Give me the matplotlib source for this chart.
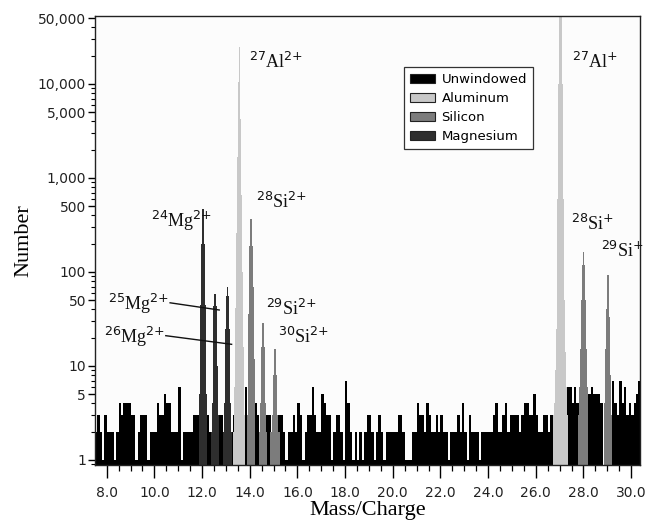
import numpy as np
import matplotlib
matplotlib.use("Agg")
import matplotlib.pyplot as plt
from matplotlib.patches import Patch
from matplotlib.ticker import FixedLocator, MultipleLocator, FormatStrFormatter, LogLocator, NullFormatter

plt.rcParams['mathtext.fontset'] = 'custom'
plt.rcParams['mathtext.rm'] = 'Liberation Serif'
plt.rcParams['mathtext.sf'] = 'DejaVu Sans'

# ---------------- data ----------------
series_names = ['Unwindowed', 'Aluminum', 'Silicon', 'Magnesium']
series_colors = ['#000000', '#c8c8c8', '#7c7c7c', '#2e2e2e']

# unwindowed background counts, bins of 0.1 starting at 7.5
noise_start = 7.5
noise_step = 0.1
noise_counts = [
    2, 3, 2, 1, 3,
    2, 2, 2, 1, 2, 4, 3, 4, 4, 4,
    3, 3, 1, 2, 3, 3, 3, 1, 2, 2,
    2, 4, 3, 3, 5, 4, 4, 2, 2, 2,
    6, 1, 2, 2, 2, 2, 3, 3, 3, 0,
    0, 0, 3, 2, 0, 0, 0, 3, 3, 0,
    0, 0, 2, 3, 0, 0, 0, 0, 6, 0,
    0, 0, 4, 3, 0, 0, 0, 3, 3, 0,
    0, 0, 3, 3, 2, 1, 2, 2, 3, 2,
    4, 3, 1, 2, 3, 3, 6, 3, 2, 2,
    5, 4, 3, 3, 1, 2, 3, 3, 2, 1,
    7, 4, 2, 1, 2, 1, 2, 1, 2, 3,
    3, 2, 1, 2, 3, 2, 1, 2, 2, 2,
    2, 2, 3, 3, 2, 1, 1, 1, 2, 2,
    4, 3, 3, 2, 4, 3, 2, 2, 3, 2,
    3, 2, 2, 1, 2, 2, 2, 3, 2, 4,
    2, 1, 3, 2, 2, 2, 1, 2, 2, 2,
    2, 2, 3, 4, 2, 2, 3, 4, 2, 3,
    3, 3, 3, 2, 3, 4, 4, 3, 3, 5,
    3, 2, 2, 3, 3, 2, 3, 3, 0, 0,
    0, 0, 0, 6, 6, 4, 6, 4, 0, 0,
    0, 0, 5, 6, 5, 5, 5, 4, 0, 0,
    0, 0, 7, 4, 3, 7, 4, 6, 3, 4,
    3, 4, 5, 7,
]

# windowed peaks: label, centre mass/charge, element, counts (centre bin outwards), bin width 0.02
peak_step = 0.02
peak_labels = [r'$^{\mathsf{24}}$Mg$^{\mathsf{2{+}}}$', r'$^{\mathsf{25}}$Mg$^{\mathsf{2{+}}}$',
               r'$^{\mathsf{26}}$Mg$^{\mathsf{2{+}}}$', r'$^{\mathsf{27}}$Al$^{\mathsf{2{+}}}$',
               r'$^{\mathsf{28}}$Si$^{\mathsf{2{+}}}$', r'$^{\mathsf{29}}$Si$^{\mathsf{2{+}}}$',
               r'$^{\mathsf{30}}$Si$^{\mathsf{2{+}}}$', r'$^{\mathsf{27}}$Al$^{\mathsf{{+}}}$',
               r'$^{\mathsf{28}}$Si$^{\mathsf{{+}}}$', r'$^{\mathsf{29}}$Si$^{\mathsf{{+}}}$']
peak_mass = [12.04, 12.55, 13.07, 13.56, 14.06, 14.56, 15.06, 27.04, 28.00, 29.02]
peak_element = ['Magnesium', 'Magnesium', 'Magnesium', 'Aluminum', 'Silicon',
                'Silicon', 'Silicon', 'Aluminum', 'Silicon', 'Silicon']
mg24_profile = [490, 470, 350, 200, 100, 45, 13, 5, 3]
mg25_profile = [60, 58, 50, 43, 25, 10, 4, 3, 2]
mg26_profile = [69, 66, 55, 45, 25, 10, 4, 3, 2]
al27_2_profile = [26700, 25000, 10500, 4200, 1660, 660, 260, 100, 41, 16, 6, 3, 2]
si28_2_profile = [390, 370, 280, 190, 120, 70, 36, 12, 3]
si29_2_profile = [30, 29, 22, 16, 9, 4, 3, 2, 2]
si30_2_profile = [16, 15, 11, 8, 5, 3, 3, 2, 2, 2]
al27_1_profile = [70000, 65000, 55000, 30000, 10000, 3000, 600, 150, 50, 25, 14, 9, 6, 4, 3, 3]
si28_1_profile = [164, 160, 120, 75, 50, 35, 15, 10, 6, 4, 3]
si29_1_profile = [95, 92, 65, 40, 33, 15, 8, 4, 3]
peak_profiles = [mg24_profile, mg25_profile, mg26_profile, al27_2_profile, si28_2_profile,
                 si29_2_profile, si30_2_profile, al27_1_profile, si28_1_profile, si29_1_profile]

ytick_values = [1, 5, 10, 50, 100, 500, 1000, 5000, 10000, 50000]
ytick_labels = ['1', '5', '10', '50', '100', '500', '1,000', '5,000', '10,000', '50,000']

# ---------------- figure ----------------
fig = plt.figure(figsize=(6.46, 5.2), dpi=100)
ax = fig.add_axes([95 / 646, 55 / 520, 544.5 / 646, 449 / 520])
ax.set_facecolor('#fcfcfc')
ax.set_yscale('log')
BASE = 0.5

color_of = dict(zip(series_names, series_colors))

nc = np.asarray(noise_counts, dtype=float)
edges = noise_start + noise_step * np.arange(len(nc) + 1)
ax.stairs(np.where(nc > 0, nc, BASE), edges, baseline=BASE, fill=True,
          color=color_of['Unwindowed'], linewidth=0)

for m, el, prof in zip(peak_mass, peak_element, peak_profiles):
    p = np.asarray(prof, dtype=float)
    vals = np.concatenate([p[::-1], p[1:]])
    n = len(p) - 1
    e = m + peak_step * (np.arange(-n, n + 2) - 0.5)
    ax.stairs(vals, e, baseline=BASE, fill=True, color=color_of[el], linewidth=0)

ax.set_xlim(7.51, 30.35)
ax.set_ylim(0.884, 52900)

# ticks
ax.xaxis.set_major_locator(MultipleLocator(2))
ax.xaxis.set_minor_locator(MultipleLocator(0.5))
ax.xaxis.set_major_formatter(FormatStrFormatter('%.1f'))
ax.yaxis.set_major_locator(FixedLocator(ytick_values))
ax.set_yticklabels(ytick_labels)
ax.yaxis.set_minor_locator(LogLocator(base=10, subs=np.arange(2, 10)))
ax.yaxis.set_minor_formatter(NullFormatter())
ax.tick_params(axis='both', which='major', direction='out', labelsize=10,
               labelcolor='#222222', width=1.0)
ax.tick_params(axis='x', which='major', length=9, pad=6)
ax.tick_params(axis='x', which='minor', length=4.5, width=0.9)
ax.tick_params(axis='y', which='major', length=5, pad=1.5)
ax.tick_params(axis='y', which='minor', length=3, width=0.8)
for lab in ax.get_xticklabels() + ax.get_yticklabels():
    lab.set_family('DejaVu Sans')
for s in ax.spines.values():
    s.set_linewidth(1.0)
    s.set_color('#222222')

ax.set_xlabel('Mass/Charge', family='Liberation Serif', fontsize=16, labelpad=1)
ax.set_ylabel('Number', family='Liberation Serif', fontsize=16, labelpad=3)

# legend
handles = [Patch(facecolor=c, edgecolor='#222222', linewidth=0.8) for c in series_colors]
leg = ax.legend(handles, series_names, loc='upper left', bbox_to_anchor=(0.5675, 0.886),
                borderaxespad=0, frameon=True, fancybox=False, framealpha=1,
                edgecolor='#333333', handlelength=1.9, handleheight=0.75,
                labelspacing=0.45, borderpad=0.45, handletextpad=0.5,
                prop={'family': 'DejaVu Sans', 'size': 9.5})
leg.get_frame().set_linewidth(0.9)

# peak annotations
tkw = dict(family='Liberation Serif', fontsize=13, va='baseline', color='#111111')
ax.text(9.84, 301, peak_labels[0], ha='left', **tkw)
ax.text(10.62, 39.4, peak_labels[1], ha='right', **tkw)
ax.text(10.44, 17.6, peak_labels[2], ha='right', **tkw)
ax.text(13.96, 14800, peak_labels[3], ha='left', **tkw)
ax.text(14.28, 480, peak_labels[4], ha='left', **tkw)
ax.text(14.67, 34.9, peak_labels[5], ha='left', **tkw)
ax.text(15.18, 17.4, peak_labels[6], ha='left', **tkw)
ax.text(27.52, 14700, peak_labels[7], ha='left', **tkw)
ax.text(27.48, 280, peak_labels[8], ha='left', **tkw)
ax.text(28.74, 145, peak_labels[9], ha='left', **tkw)
ax.plot([10.66, 12.72], [47, 39.4], color='#111111', lw=1.0)
ax.plot([10.48, 13.24], [21, 17], color='#111111', lw=1.0)

fig.savefig('out.png', dpi=100)
